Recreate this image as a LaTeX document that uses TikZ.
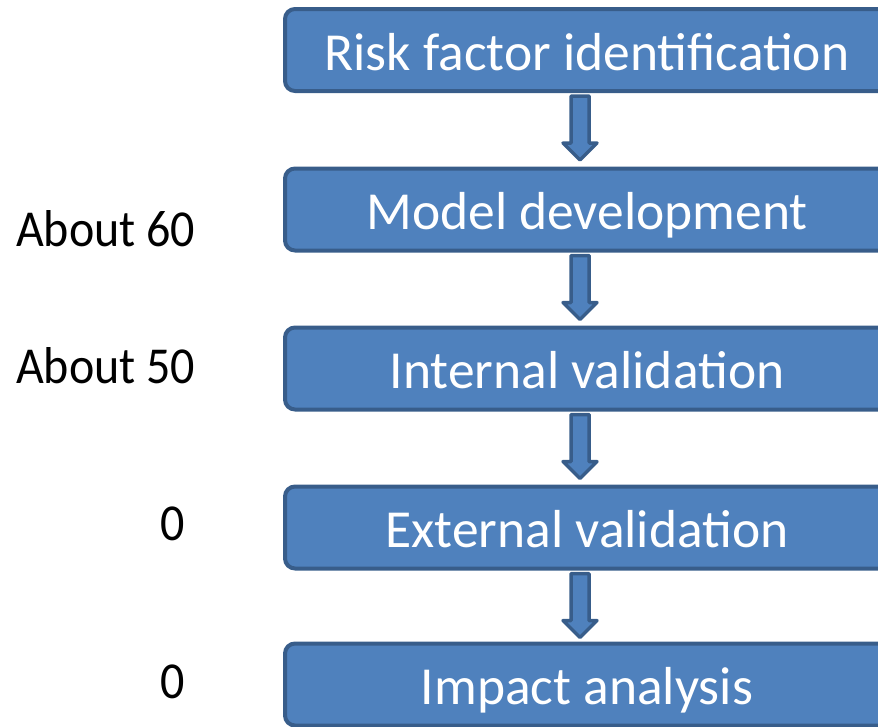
\documentclass[tikz,border=0pt]{standalone}
\usepackage{fontspec}
\usepackage{graphicx}
\setmainfont{Carlito}
\usetikzlibrary{calc}
\definecolor{boxfill}{HTML}{4F81BD}
\definecolor{boxline}{HTML}{385D8A}
\newcommand{\tallish}[1]{\scalebox{1}[1.08]{#1}}
\begin{document}
\begin{tikzpicture}[x=1pt,y=-1pt,
  stagebox/.style={draw=boxline, fill=boxfill, line width=4pt, rounded corners=10pt,
    minimum width=604pt, minimum height=82pt, inner sep=0pt, text=white,
    font=\fontsize{53.5}{60}\selectfont, text height=40pt, text depth=0pt},
  lab/.style={inner sep=0pt, font=\fontsize{48}{58}\selectfont, text=black},
  flowarrow/.style={draw=boxline, fill=boxfill, line width=3.5pt, line join=round}]
\useasboundingbox (0,0) rectangle (878,726);
\begin{scope}
\clip (0,0) rectangle (878,726);
\node[stagebox] (b1) at (587,50) {Risk factor identification};
\node[stagebox] (b2) at (587,209.5) {Model development};
\node[stagebox] (b3) at (587,368.5) {Internal validation};
\node[stagebox] (b4) at (587,527.5) {External validation};
\node[stagebox] (b5) at (587,684.5) {Impact analysis};
\foreach \a/\b in {b1/b2,b2/b3,b3/b4,b4/b5}{
  \draw[flowarrow] ([shift={(-16,3)}]\a.south) -- ++(18,0) -- ++(0,47) -- ++(8,0)
    -- ++(-17,17) -- ++(-17,-17) -- ++(8,0) -- cycle;
}
\end{scope}
\node[lab, anchor=base west] (l2) at (16,246) {\tallish{About 60}};
\node[lab, anchor=base west] (l3) at (16,383) {\tallish{About 50}};
\node[lab, anchor=base west] (l4) at (160,540) {\tallish{0}};
\node[lab, anchor=base west] (l5) at (160,698) {\tallish{0}};
\end{tikzpicture}
\end{document}
